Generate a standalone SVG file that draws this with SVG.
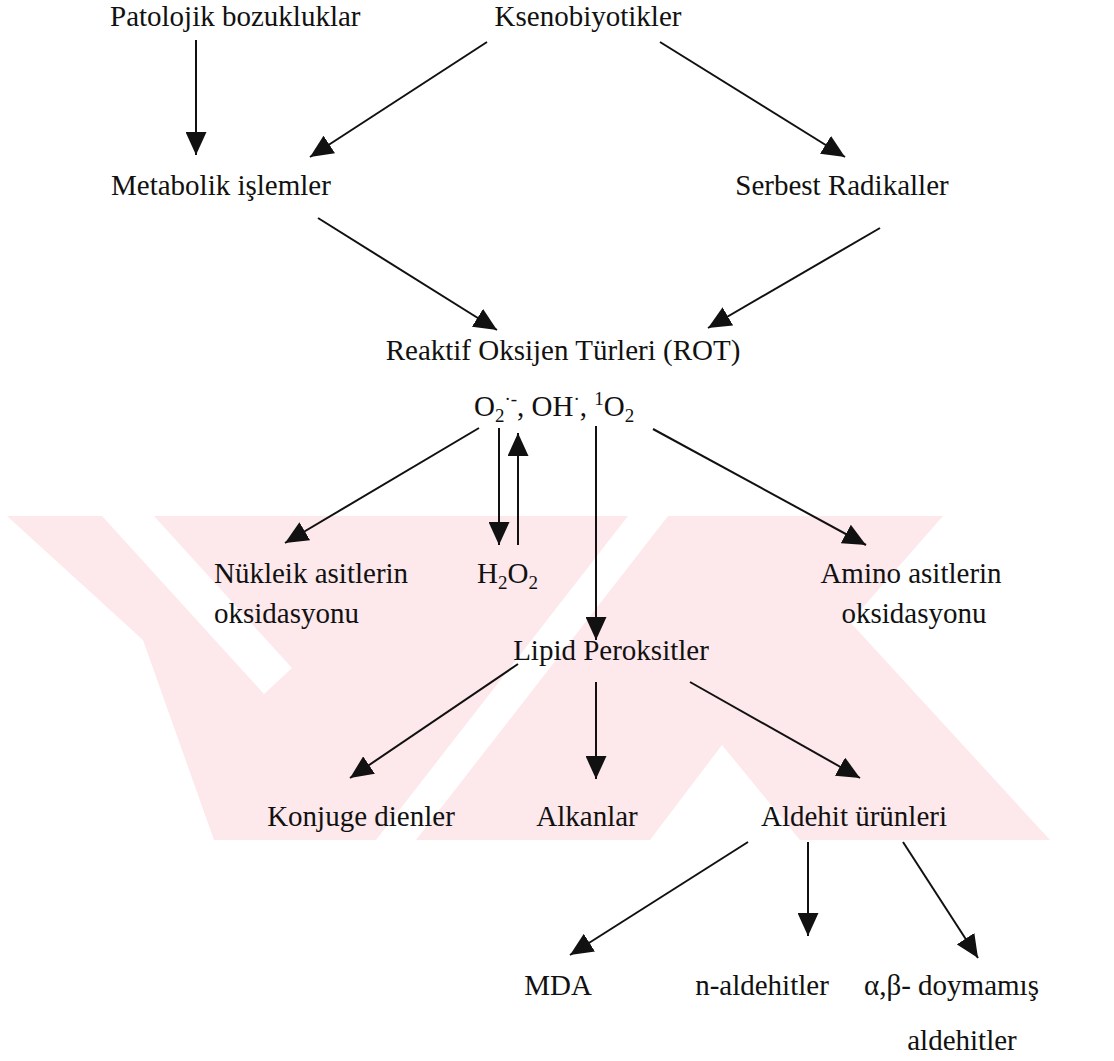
<svg xmlns="http://www.w3.org/2000/svg" width="1114" height="1061" viewBox="0 0 1114 1061">
<style>
.t{font-family:"Liberation Serif","Times New Roman",serif;font-size:29px;fill:#111}
.m{text-anchor:middle}
.s{font-size:19px}
.wm{fill:#fde8ec}
.wh{fill:#ffffff}
</style>
<defs>
<marker id="ah" markerUnits="userSpaceOnUse" markerWidth="23" markerHeight="21" viewBox="0 0 23 21" refX="23" refY="10.5" orient="auto">
<path d="M0,0 L23,10.5 L0,21 z" fill="#111"/>
</marker>
</defs>
<rect width="1114" height="1061" fill="#ffffff"/>
<g id="watermark">
<polygon class="wm" points="7,516 943,516 850,622 1050,840 214,840 143,640"/>
<polygon class="wh" points="102,516 154,516 292,668 264,694"/>
<polygon class="wh" points="628,516 668,516 416,840 376,840"/>
<polygon class="wh" points="650,840 722,745 800,840"/>
</g>
<g id="connectors" stroke="#111" stroke-width="2" fill="none" marker-end="url(#ah)">
<line x1="196" y1="40" x2="196" y2="155"/>
<line x1="487" y1="42" x2="310" y2="157"/>
<line x1="660" y1="42" x2="845" y2="157"/>
<line x1="318" y1="218" x2="497" y2="330"/>
<line x1="880" y1="228" x2="708" y2="328"/>
<line x1="479" y1="428" x2="285" y2="543"/>
<line x1="499" y1="428" x2="499" y2="545"/>
<line x1="518" y1="545" x2="518" y2="433"/>
<line x1="596" y1="426" x2="596" y2="640"/>
<line x1="653" y1="429" x2="866" y2="545"/>
<line x1="518" y1="664" x2="350" y2="778"/>
<line x1="596" y1="682" x2="596" y2="779"/>
<line x1="690" y1="682" x2="860" y2="778"/>
<line x1="748" y1="842" x2="570" y2="955"/>
<line x1="808" y1="842" x2="808" y2="936"/>
<line x1="903" y1="842" x2="978" y2="958"/>
</g>
<g id="n-patolojik"><text class="t" x="110" y="26">Patolojik bozukluklar</text></g>
<g id="n-ksenobiyotikler"><text class="t m" x="588" y="26">Ksenobiyotikler</text></g>
<g id="n-metabolik"><text class="t" x="111" y="195">Metabolik işlemler</text></g>
<g id="n-serbest"><text class="t m" x="842" y="195">Serbest Radikaller</text></g>
<g id="n-rot"><text class="t m" x="563" y="360">Reaktif Oksijen Türleri (ROT)</text></g>
<g id="n-species"><text class="t" x="474" y="416">O<tspan class="s" dy="6">2</tspan><tspan class="s" dy="-17">·-</tspan><tspan dy="11">, OH</tspan><tspan class="s" dy="-11">·</tspan><tspan dy="11">, </tspan><tspan class="s" dy="-11">1</tspan><tspan dy="11">O</tspan><tspan class="s" dy="6">2</tspan></text></g>
<g id="n-nukleik"><text class="t" x="214" y="583">Nükleik asitlerin</text><text class="t" x="214" y="623">oksidasyonu</text></g>
<g id="n-h2o2"><text class="t" x="477" y="583">H<tspan class="s" dy="6">2</tspan><tspan dy="-6">O</tspan><tspan class="s" dy="6">2</tspan></text></g>
<g id="n-amino"><text class="t m" x="911" y="583">Amino asitlerin</text><text class="t m" x="914" y="623">oksidasyonu</text></g>
<g id="n-lipid"><text class="t m" x="611" y="660">Lipid Peroksitler</text></g>
<g id="n-konjuge"><text class="t m" x="361" y="826">Konjuge dienler</text></g>
<g id="n-alkanlar"><text class="t m" x="587" y="826">Alkanlar</text></g>
<g id="n-aldehit"><text class="t m" x="854" y="826">Aldehit ürünleri</text></g>
<g id="n-mda"><text class="t m" x="558" y="995">MDA</text></g>
<g id="n-naldehit"><text class="t m" x="762" y="995">n-aldehitler</text></g>
<g id="n-doymamis"><text class="t" x="864" y="995">α,β- doymamış</text><text class="t m" x="962" y="1050">aldehitler</text></g>
</svg>
